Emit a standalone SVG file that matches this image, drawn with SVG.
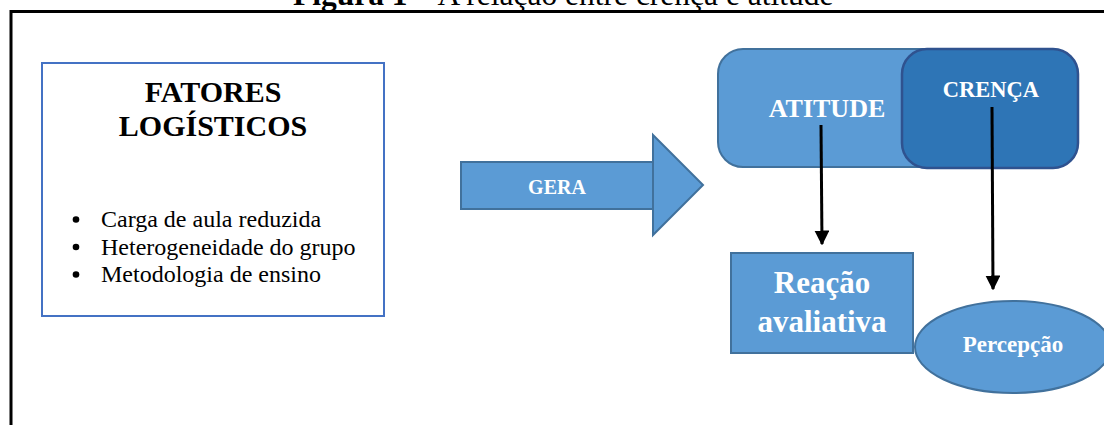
<svg xmlns="http://www.w3.org/2000/svg" width="1104" height="425" viewBox="0 0 1104 425">
<style>
.serif{font-family:"Liberation Serif","Times New Roman",serif}
.wb{font-family:"Liberation Serif","Times New Roman",serif;font-weight:bold;fill:#fff;text-anchor:middle}
.lb{fill:#5B9BD5;stroke:#41719C;stroke-width:2}
.db{fill:#2E75B6;stroke:#2F528F;stroke-width:2.5}
.conn{stroke:#000;stroke-width:3;fill:none}
</style>
<defs>
<marker id="ah" markerWidth="5" markerHeight="5" refX="4.5" refY="2.5" orient="auto" markerUnits="strokeWidth">
<path d="M0,0 L5,2.5 L0,5 z" fill="#000"/>
</marker>
</defs>
<rect width="1104" height="425" fill="#fff"/>
<text class="serif" x="293" y="5" font-size="31.5" fill="#000"><tspan font-weight="bold">Figura 1</tspan> – A relação entre crença e atitude</text>
<path d="M11,425 V11.5 H1104" fill="none" stroke="#000" stroke-width="3"/>
<g id="fatores">
<rect x="42" y="63" width="342" height="253" fill="#fff" stroke="#4472C4" stroke-width="2"/>
<text class="serif" x="213" y="102" font-size="30" font-weight="bold" text-anchor="middle">FATORES</text>
<text class="serif" x="213" y="136" font-size="30" font-weight="bold" text-anchor="middle">LOGÍSTICOS</text>
<g class="serif" font-size="24">
<circle cx="76" cy="219.5" r="3.3"/>
<text x="101" y="227">Carga de aula reduzida</text>
<circle cx="76" cy="247" r="3.3"/>
<text x="101" y="254.5">Heterogeneidade do grupo</text>
<circle cx="76" cy="274.5" r="3.3"/>
<text x="101" y="282">Metodologia de ensino</text>
</g>
</g>
<g id="gera">
<rect class="lb" x="461" y="162" width="192" height="47"/>
<path class="lb" d="M653,135 L703,185 L653,235 Z"/>
<rect x="650" y="163" width="3" height="45" fill="#5B9BD5"/>
<line x1="653" y1="162" x2="653" y2="209" stroke="#41719C" stroke-width="2"/>
<text class="wb" x="557" y="194" font-size="20">GERA</text>
</g>
<g id="atitude">
<rect class="lb" x="718" y="49" width="300" height="118" rx="25"/>
<text class="wb" x="827" y="117" font-size="26">ATITUDE</text>
</g>
<g id="crenca">
<rect class="db" x="902" y="49" width="176" height="119" rx="25"/>
<text class="wb" x="991" y="97" font-size="22.5">CRENÇA</text>
</g>
<g id="reacao">
<rect class="lb" x="731" y="253" width="182" height="100"/>
<text class="wb" x="822" y="293" font-size="31">Reação</text>
<text class="wb" x="822" y="332" font-size="31">avaliativa</text>
</g>
<g id="percepcao">
<ellipse class="lb" cx="1013" cy="347" rx="98" ry="46"/>
<text class="wb" x="1013" y="352" font-size="23">Percepção</text>
</g>
<g id="connectors">
<line class="conn" x1="821" y1="125" x2="822" y2="244" marker-end="url(#ah)"/>
<line class="conn" x1="992" y1="107" x2="993" y2="289" marker-end="url(#ah)"/>
</g>
</svg>
